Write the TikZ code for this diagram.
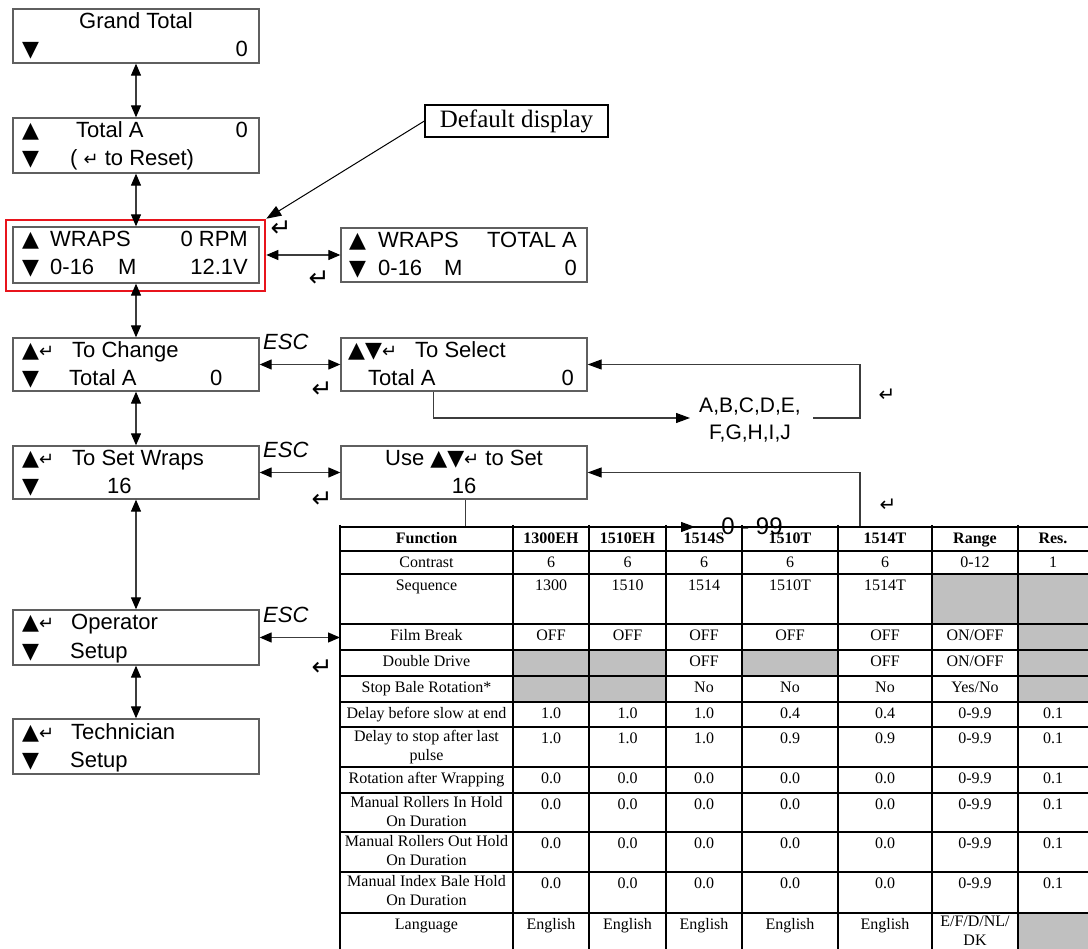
\documentclass[tikz,border=0pt]{standalone}
\usepackage{fontspec}
\setmainfont{Liberation Serif}
\newfontfamily\lcd{Liberation Sans}
\newfontfamily\sym{DejaVu Sans}
\usetikzlibrary{arrows.meta,calc}
\definecolor{boxgray}{RGB}{95,95,95}
\definecolor{linegray}{RGB}{60,60,60}
\definecolor{cellgray}{RGB}{192,192,192}
\definecolor{hired}{RGB}{232,20,28}
\newcommand\lcdup{{\sym\fontsize{22}{22}\selectfont ▲}}
\newcommand\lcddn{{\sym\fontsize{22}{22}\selectfont ▼}}
\newcommand\lcdret{{\sym\fontsize{18}{18}\selectfont ↵}}
\newcommand\trow[9]{%
  \node[tcell] (r#1-1) at (426.5,#1+3) {#2};
  \node[tcell] (r#1-2) at (551,#1+3) {#3};
  \node[tcell] (r#1-3) at (627.5,#1+3) {#4};
  \node[tcell] (r#1-4) at (704,#1+3) {#5};
  \node[tcell] (r#1-5) at (790,#1+3) {#6};
  \node[tcell] (r#1-6) at (885,#1+3) {#7};
  \node[tcell] (r#1-7) at (975,#1+3) {#8};
  \node[tcell] (r#1-8) at (1053,#1+3) {#9};}
\begin{document}
\begin{tikzpicture}[x=1pt,y=-1pt,
  lcdbox/.style={draw=boxgray, line width=1.3pt, minimum width=246pt, minimum height=#1, inner sep=0pt, fill=white},
  lcdbox/.default=54pt,
  lt/.style={font=\lcd\fontsize{22}{26}\selectfont, inner sep=0pt},
  esc/.style={font=\lcd\itshape\fontsize{22}{26}\selectfont, inner sep=0pt, anchor=base west},
  retsym/.style={font=\sym\fontsize{25}{25}\selectfont, inner sep=0pt},
  smallret/.style={font=\sym\fontsize{20}{20}\selectfont, inner sep=0pt},
  dbl/.style={draw=linegray, line width=1.1pt, {Triangle[length=12pt,width=10pt,color=black]}-{Triangle[length=12pt,width=10pt,color=black]}},
  sarrow/.style={draw=linegray, line width=1.1pt, -{Triangle[length=14pt,width=10pt,color=black]}},
  ptr/.style={draw=black, line width=1pt, -{Triangle[length=15pt,width=11pt]}},
  tcell/.style={anchor=north, inner sep=0pt, align=center, font=\fontsize{16}{19}\selectfont, execute at begin node=\rule{0pt}{13pt}},
  tline/.style={draw=black, line width=1.8pt}
]
\useasboundingbox (0,0) rectangle (1088,949);

% red highlight frame
\node[draw=hired, line width=2.6pt, minimum width=259pt, minimum height=71pt, inner sep=0pt] (redframe) at (135.5,255.5) {};

% LCD boxes
\node[lcdbox=54pt] (gt) at (136,36) {};
\node[lcdbox=55pt] (ta) at (136,145.5) {};
\node[lcdbox=56pt] (wr) at (136,255) {};
\node[lcdbox=54pt] (wt) at (464,255) {};
\node[lcdbox=53pt] (tc) at (136,364.5) {};
\node[lcdbox=53pt] (ts) at (464,364.5) {};
\node[lcdbox=53pt] (sw) at (136,472.5) {};
\node[lcdbox=53pt] (us) at (464,472.5) {};
\node[lcdbox=55pt] (op) at (136,637.5) {};
\node[lcdbox=55pt] (te) at (136,746.5) {};

% box texts
\node[lt, anchor=base] (gt-1) at (136,29) {Grand Total};
\node[lt, anchor=base west] (gt-d) at (22,57) {\lcddn};
\node[lt, anchor=base east] (gt-2) at (248,57) {0};

\node[lt, anchor=base west] (ta-u) at (22,138) {\lcdup};
\node[lt, anchor=base west] (ta-1) at (76,138) {Total A};
\node[lt, anchor=base east] (ta-n) at (248,138) {0};
\node[lt, anchor=base west] (ta-d) at (22,166) {\lcddn};
\node[lt, anchor=base west] (ta-2) at (70,166) {( \lcdret\ to Reset)};

\node[lt, anchor=base west] (wr-u) at (22,247) {\lcdup};
\node[lt, anchor=base west] (wr-1) at (50,247) {WRAPS};
\node[lt, anchor=base east] (wr-r) at (248,247) {0 RPM};
\node[lt, anchor=base west] (wr-d) at (22,275) {\lcddn};
\node[lt, anchor=base west] (wr-2) at (50,275) {0-16};
\node[lt, anchor=base west] (wr-m) at (118,275) {M};
\node[lt, anchor=base east] (wr-v) at (248,275) {12.1V};

\node[lt, anchor=base west] (wt-u) at (349,248) {\lcdup};
\node[lt, anchor=base west] (wt-1) at (378,248) {WRAPS};
\node[lt, anchor=base east] (wt-t) at (577,248) {TOTAL A};
\node[lt, anchor=base west] (wt-d) at (349,276) {\lcddn};
\node[lt, anchor=base west] (wt-2) at (378,276) {0-16};
\node[lt, anchor=base west] (wt-m) at (444,276) {M};
\node[lt, anchor=base east] (wt-n) at (577,276) {0};

\node[lt, anchor=base west] (tc-u) at (22,358) {\lcdup\lcdret};
\node[lt, anchor=base west] (tc-1) at (72,358) {To Change};
\node[lt, anchor=base west] (tc-d) at (22,386) {\lcddn};
\node[lt, anchor=base west] (tc-2) at (69,386) {Total A};
\node[lt, anchor=base west] (tc-n) at (210,386) {0};

\node[lt, anchor=base west] (ts-u) at (348,358) {\lcdup\lcddn\lcdret};
\node[lt, anchor=base west] (ts-1) at (415,358) {To Select};
\node[lt, anchor=base west] (ts-2) at (368,386) {Total A};
\node[lt, anchor=base east] (ts-n) at (574,386) {0};

\node[lt, anchor=base west] (sw-u) at (22,466) {\lcdup\lcdret};
\node[lt, anchor=base west] (sw-1) at (72,466) {To Set Wraps};
\node[lt, anchor=base west] (sw-d) at (22,494) {\lcddn};
\node[lt, anchor=base west] (sw-2) at (107,494) {16};

\node[lt, anchor=base] (us-1) at (464,466) {Use \lcdup\lcddn\lcdret\ to Set};
\node[lt, anchor=base] (us-2) at (464,494) {16};

\node[lt, anchor=base west] (op-u) at (22,630) {\lcdup\lcdret};
\node[lt, anchor=base west] (op-1) at (71,630) {Operator};
\node[lt, anchor=base west] (op-d) at (22,658) {\lcddn};
\node[lt, anchor=base west] (op-2) at (70,658) {Setup};

\node[lt, anchor=base west] (te-u) at (22,739) {\lcdup\lcdret};
\node[lt, anchor=base west] (te-1) at (71,739) {Technician};
\node[lt, anchor=base west] (te-d) at (22,767) {\lcddn};
\node[lt, anchor=base west] (te-2) at (70,767) {Setup};

% default display callout
\node[draw=black, line width=1.2pt, minimum width=183pt, minimum height=32pt, inner sep=0pt, font=\fontsize{25}{28}\selectfont] (dd) at (516.5,121) {Default display};
\draw[ptr] (dd.west) -- (redframe.north east);

% vertical navigation
\draw[dbl] (gt.south) -- (ta.north);
\draw[dbl] (ta.south) -- (wr.north);
\draw[dbl] (wr.south) -- (tc.north);
\draw[dbl] (tc.south) -- (sw.north);
\draw[dbl] (sw.south) -- (op.north);
\draw[dbl] (op.south) -- (te.north);

% horizontal navigation
\coordinate (tblw) at (340,637.5);
\draw[dbl] (redframe.east |- wt.west) -- (wt.west);
\draw[dbl] (tc.east) -- (ts.west);
\draw[dbl] (sw.east) -- (us.west);
\draw[dbl] (op.east) -- (tblw);

% ESC labels
\node[esc] (esc1) at (263,350) {ESC};
\node[esc] (esc2) at (263,458) {ESC};
\node[esc] (esc3) at (263,622) {ESC};

% return symbols
\node[retsym] (rt1) at (281,229) {↵};
\node[retsym] (rt2) at (319,279) {↵};
\node[retsym] (rt3) at (322,390) {↵};
\node[retsym] (rt4) at (322,500) {↵};
\node[retsym] (rt5) at (322,668) {↵};
\node[smallret] (rt6) at (887,395) {↵};
\node[smallret] (rt7) at (888,505) {↵};

% selection loop A..J
\node[lt, font=\lcd\fontsize{21}{27}\selectfont, align=center] (abc) at (750,420) {A,B,C,D,E,\\F,G,H,I,J};
\coordinate (abcin) at (690,418);
\coordinate (abcout) at (813,418);
\draw[sarrow] ($(ts.south west)+(93,0)$) |- (abcin);
\draw[sarrow] (abcout) -- ++(47,0) |- (ts.east);

% wraps loop 0-99
\coordinate (nnin) at (695,527);
\coordinate (nnout) at (812,527);
\draw[sarrow] ($(us.south west)+(125,0)$) |- (nnin);
\draw[sarrow] (nnout) -- ++(48,0) |- (us.east);

% table: gray cells
\fill[cellgray] (932,574) rectangle (1088,624);
\fill[cellgray] (1018,624) rectangle (1088,650);
\fill[cellgray] (513,650) rectangle (666,702);
\fill[cellgray] (742,650) rectangle (838,676);
\fill[cellgray] (1018,650) rectangle (1088,702);
\fill[cellgray] (1018,913) rectangle (1088,949);

% table: grid
\foreach \yy in {527,551,574,624,650,676,702,727,767,793,832,872,913}
  \draw[tline] (340,\yy) -- (1088,\yy);
\foreach \xx in {340,513,589,666,742,838,932,1018}
  \draw[tline] (\xx,525) -- (\xx,949);

% table: text
\trow{527}{\textbf{Function}}{\textbf{1300EH}}{\textbf{1510EH}}{\textbf{1514S}}{\textbf{1510T}}{\textbf{1514T}}{\textbf{Range}}{\textbf{Res.}}
\trow{551}{Contrast}{6}{6}{6}{6}{6}{0-12}{1}
\trow{574}{Sequence}{1300}{1510}{1514}{1510T}{1514T}{}{}
\trow{624}{Film Break}{OFF}{OFF}{OFF}{OFF}{OFF}{ON/OFF}{}
\trow{650}{Double Drive}{}{}{OFF}{}{OFF}{ON/OFF}{}
\trow{676}{Stop Bale Rotation*}{}{}{No}{No}{No}{Yes/No}{}
\trow{702}{Delay before slow at end}{1.0}{1.0}{1.0}{0.4}{0.4}{0-9.9}{0.1}
\trow{727}{Delay to stop after last\\pulse}{1.0}{1.0}{1.0}{0.9}{0.9}{0-9.9}{0.1}
\trow{767}{Rotation after Wrapping}{0.0}{0.0}{0.0}{0.0}{0.0}{0-9.9}{0.1}
\trow{793}{Manual Rollers In Hold\\On Duration}{0.0}{0.0}{0.0}{0.0}{0.0}{0-9.9}{0.1}
\trow{832}{Manual Rollers Out Hold\\On Duration}{0.0}{0.0}{0.0}{0.0}{0.0}{0-9.9}{0.1}
\trow{872}{Manual Index Bale Hold\\On Duration}{0.0}{0.0}{0.0}{0.0}{0.0}{0-9.9}{0.1}
\trow{913}{Language}{English}{English}{English}{English}{English}{E/F/D/NL/\\DK}{}

% 0-99 label on top
\node[lt, font=\lcd\fontsize{24}{26}\selectfont] (nn) at (752,526) {0 - 99};
\end{tikzpicture}
\end{document}
